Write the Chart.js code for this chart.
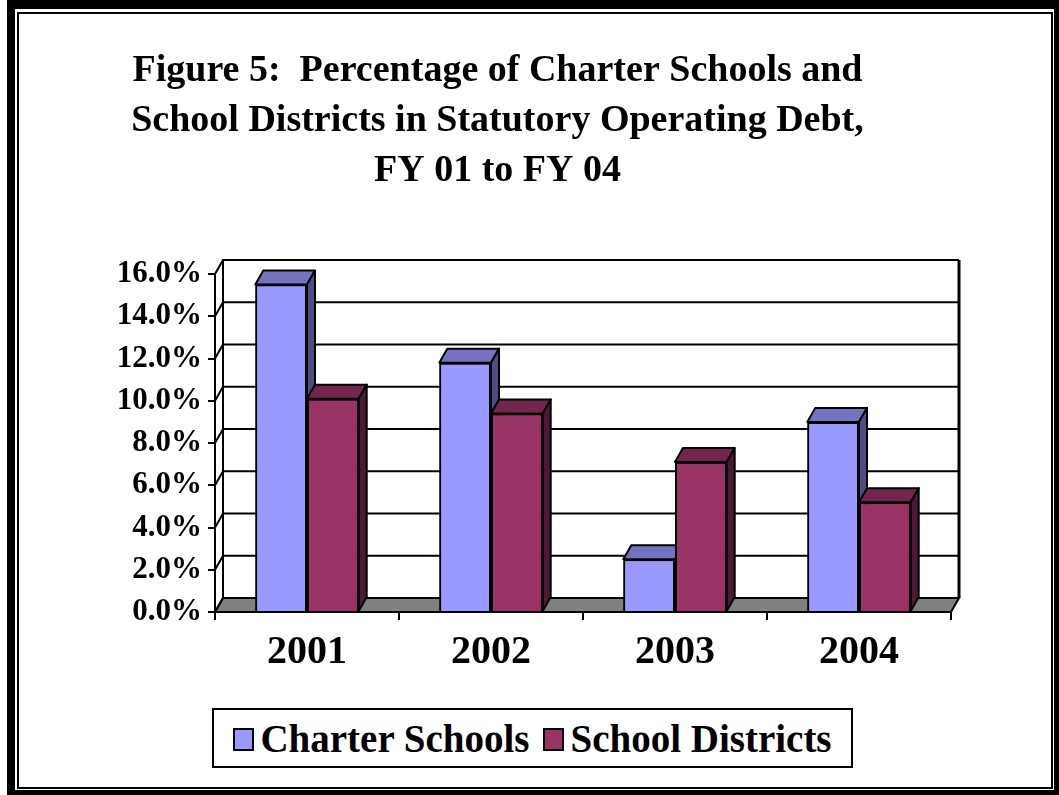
<!DOCTYPE html>
<html>
<head>
<meta charset="utf-8">
<script src="https://cdn.jsdelivr.net/npm/chart.js@4/dist/chart.umd.min.js"></script>
<style>
  body { margin: 0; background: #fff; }
  #page { position: relative; width: 1059px; height: 795px; overflow: hidden; background: #fff; }
  #frame-outer {
    position: absolute; left: 7px; top: 0; width: 1052px; height: 795px;
    box-sizing: border-box; border-style: solid; border-color: #000;
    border-width: 9px 5px 5px 8px;
  }
  #frame-inner {
    position: absolute; left: 17px; top: 12px; width: 1036px; height: 777px;
    box-sizing: border-box; border: 2px solid #000;
  }
  #chart { position: absolute; left: 0; top: 0; }
  #legend {
    position: absolute; left: 212px; top: 708px; width: 641px; height: 60px;
    box-sizing: border-box; border: 2px solid #000; background: #fff;
    display: flex; align-items: center; justify-content: center;
    font: bold 39px "Liberation Serif", "Times New Roman", serif; color: #000;
  }
  #legend .item { display: flex; align-items: center; margin: 0 7px; }
  #legend .swatch {
    width: 21px; height: 23px; border: 2px solid #000; box-sizing: border-box;
    margin-right: 6px; margin-top: 2px;
  }
</style>
</head>
<body>
<div id="page">
  <div id="frame-outer"></div>
  <div id="frame-inner"></div>
  <canvas id="chart" width="1059" height="795"></canvas>
  <div id="legend"></div>
</div>
<script>
const years = ["2001", "2002", "2003", "2004"];
const charterSchools = [15.5, 11.8, 2.5, 9.0];
const schoolDistricts = [10.1, 9.4, 7.1, 5.2];
const yTicks = [0, 2, 4, 6, 8, 10, 12, 14, 16];

const titleLines = [
  "Figure 5:  Percentage of Charter Schools and",
  "School Districts in Statutory Operating Debt,",
  "FY 01 to FY 04"
];

// depth of the fake 3d box (px)
const DX = 8;
const DY = 14;
const serif = "'Liberation Serif', 'Times New Roman', serif";

const threeD = {
  id: "threeD",
  beforeDatasetsDraw(chart) {
    const { ctx, chartArea: a, scales: { y } } = chart;
    ctx.save();
    ctx.strokeStyle = "#000";
    ctx.lineWidth = 2;

    // floor
    ctx.fillStyle = "#808080";
    ctx.beginPath();
    ctx.moveTo(a.left, a.bottom);
    ctx.lineTo(a.right, a.bottom);
    ctx.lineTo(a.right + DX, a.bottom - DY);
    ctx.lineTo(a.left + DX, a.bottom - DY);
    ctx.closePath();
    ctx.fill();
    ctx.stroke();

    // back wall grid + left wall diagonals
    y.ticks.forEach(t => {
      const py = y.getPixelForValue(t.value);
      ctx.beginPath();
      ctx.moveTo(a.left, py);
      ctx.lineTo(a.left + DX, py - DY);
      if (t.value !== 0) ctx.lineTo(a.right + DX, py - DY);
      ctx.stroke();
    });

    ctx.beginPath();
    ctx.moveTo(a.left + DX, a.top - DY);
    ctx.lineTo(a.left + DX, a.bottom - DY);
    ctx.stroke();

    ctx.lineWidth = 3;
    ctx.beginPath();
    ctx.moveTo(a.right + DX, a.top - DY);
    ctx.lineTo(a.right + DX, a.bottom - DY);
    ctx.stroke();
    ctx.restore();
  },
  afterDatasetsDraw(chart) {
    const { ctx } = chart;
    ctx.save();
    ctx.strokeStyle = "#000";
    ctx.lineWidth = 2;
    ctx.lineJoin = "round";
    // redraw cluster by cluster so each bar hides the one behind it
    years.forEach((_, i) => {
      chart.data.datasets.forEach((ds, d) => {
        const bar = chart.getDatasetMeta(d).data[i];
        const { x, y, base, width } = bar.getProps(["x", "y", "base", "width"], true);
        const l = x - width / 2;
        const r = x + width / 2;
        bar.draw(ctx);

        ctx.fillStyle = ds.topColor;
        ctx.beginPath();
        ctx.moveTo(l, y);
        ctx.lineTo(r, y);
        ctx.lineTo(r + DX, y - DY);
        ctx.lineTo(l + DX, y - DY);
        ctx.closePath();
        ctx.fill();
        ctx.stroke();

        ctx.fillStyle = ds.sideColor;
        ctx.beginPath();
        ctx.moveTo(r, y);
        ctx.lineTo(r + DX, y - DY);
        ctx.lineTo(r + DX, base - DY);
        ctx.lineTo(r, base);
        ctx.closePath();
        ctx.fill();
        ctx.stroke();
      });
    });
    ctx.restore();
  }
};

const chart = new Chart(document.getElementById("chart"), {
  type: "bar",
  data: {
    labels: years,
    datasets: [
      {
        label: "Charter Schools",
        data: charterSchools,
        backgroundColor: "#9999FF",
        topColor: "#7373BF",
        sideColor: "#4D4D80",
        borderColor: "#000",
        borderWidth: 2
      },
      {
        label: "School Districts",
        data: schoolDistricts,
        backgroundColor: "#993366",
        topColor: "#73264D",
        sideColor: "#4D1A33",
        borderColor: "#000",
        borderWidth: 2
      }
    ]
  },
  options: {
    responsive: false,
    animation: false,
    devicePixelRatio: 1,
    layout: { padding: { left: 44, right: 108, top: 0, bottom: 113 } },
    datasets: { bar: { categoryPercentage: 0.562, barPercentage: 1 } },
    plugins: {
      legend: { display: false },
      tooltip: { enabled: false },
      title: {
        display: true,
        text: titleLines,
        color: "#000",
        font: { family: serif, size: 38, weight: "bold", lineHeight: 50 / 38 },
        padding: { top: 46, bottom: 78 }
      }
    },
    scales: {
      x: {
        afterFit: s => { s.height = 70; },
        grid: { drawOnChartArea: false, color: "#000", lineWidth: 2, tickLength: 8 },
        border: { color: "#000", width: 2 },
        ticks: { color: "#000", padding: 9, font: { family: serif, size: 40, weight: "bold" } }
      },
      y: {
        min: 0,
        max: 16,
        afterFit: s => { s.width = 171; },
        afterBuildTicks: s => { s.ticks = yTicks.map(v => ({ value: v })); },
        grid: { drawOnChartArea: false, color: "#000", lineWidth: 2, tickLength: 7 },
        border: { color: "#000", width: 2 },
        ticks: {
          color: "#000",
          padding: 6,
          font: { family: serif, size: 31, weight: "bold" },
          callback: v => v.toFixed(1) + "%"
        }
      }
    }
  },
  plugins: [threeD]
});

// legend built from the datasets
const legend = document.getElementById("legend");
chart.data.datasets.forEach(ds => {
  const item = document.createElement("div");
  item.className = "item";
  const sw = document.createElement("span");
  sw.className = "swatch";
  sw.style.background = ds.backgroundColor;
  const txt = document.createElement("span");
  txt.textContent = ds.label;
  item.appendChild(sw);
  item.appendChild(txt);
  legend.appendChild(item);
});
</script>
</body>
</html>
